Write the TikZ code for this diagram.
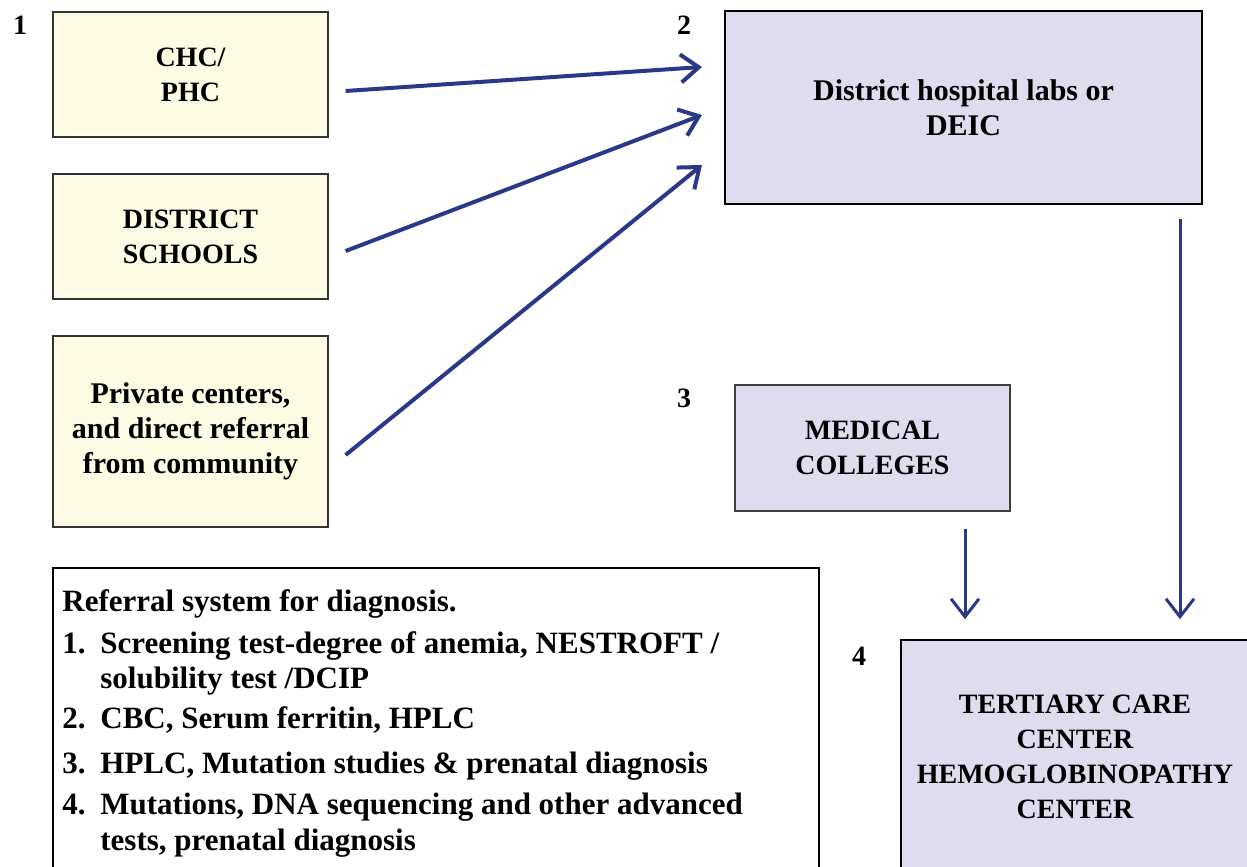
\documentclass[tikz,border=0pt]{standalone}
\usepackage{fontspec}
\setmainfont{Liberation Serif}
\usetikzlibrary{arrows.meta,calc}
\definecolor{boxyellow}{RGB}{254,251,229}
\definecolor{boxlilac}{RGB}{223,220,238}
\definecolor{arrownavy}{RGB}{42,56,138}

\begin{document}
\begin{tikzpicture}[x=0.5pt,y=-0.5pt,
    every node/.style={font=\fontsize{14}{17.5}\selectfont\bfseries},
    mixed/.style={font=\fontsize{15}{17.5}\selectfont\bfseries},
    srcbox/.style={draw=black!80, line width=0.6pt, fill=boxyellow, minimum width=137.5pt, align=center},
    lilacbox/.style={draw=black, fill=boxlilac, align=center},
    legendline/.style={anchor=base west, inner sep=0pt, font=\fontsize{15.5}{17.5}\selectfont\bfseries},
    flow/.style={draw=arrownavy, line width=2pt, -{Straight Barb[length=9pt,width=14pt]}},
    down/.style={draw=arrownavy, line width=1.5pt, -{Straight Barb[length=9pt,width=14pt]}}]

    \useasboundingbox (0,0) rectangle (1247,867);

    \node[srcbox, minimum height=62.5pt] (chc) at (190.5,74.5) {CHC/\\PHC};
    \node[srcbox, minimum height=62.5pt] (schools) at (190.5,236.5) {DISTRICT\\SCHOOLS};
    \node[srcbox, mixed, minimum height=95.5pt] (private) at (190.5,431.5) {Private centers,\\and direct referral\\from community};

    \node[lilacbox, mixed, line width=1pt, minimum width=238.5pt, minimum height=96.5pt] (dh) at (963.5,107.5) {District hospital labs or\\DEIC};
    \node[lilacbox, draw=black!75, line width=0.6pt, minimum width=137.5pt, minimum height=63pt] (med) at (872.5,448) {MEDICAL\\COLLEGES};
    \node[lilacbox, line width=0.8pt, minimum width=174pt, minimum height=117pt] (tert) at (1075,757) {TERTIARY CARE\\CENTER\\HEMOGLOBINOPATHY\\CENTER};

    \foreach \n/\x/\y in {1/20/25,2/684/25,3/684/398,4/859/656}{
    \node (num\n) at (\x,\y) {\n};
}

    \node[draw=black, line width=0.6pt, minimum width=383pt, minimum height=153.5pt] (legend) at (436,721.5) {};
    \node[legendline] (head) at (62,611) {Referral system for diagnosis.};
    \foreach \i/\y/\n/\t in {a/653/1./{Screening test-degree of anemia, NESTROFT /},
                             b/688//{solubility test /DCIP},
                             c/728/2./{CBC, Serum ferritin, HPLC},
                             d/773/3./{HPLC, Mutation studies \& prenatal diagnosis},
                             e/814/4./{Mutations, DNA sequencing and other advanced},
                             f/850//{tests, prenatal diagnosis}}{
    \node[legendline] (itemnum\i) at (62,\y) {\n};
    \node[legendline] (item\i) at (100,\y) {\t};
}

\draw[flow] ($(chc.east)+(17,16.5)$) -- ($(dh.west)+(-22,-40.5)$);
\draw[flow] ($(schools.east)+(17,14.5)$) -- ($(dh.west)+(-22,7.5)$);
\draw[flow] ($(private.east)+(17,23.5)$) -- ($(dh.west)+(-22,57.5)$);
\draw[down] ($(med.south)+(92.5,17)$) -- ($(tert.north)+(-110,-20)$);
\draw[down] ($(dh.south)+(216.5,14)$) -- ($(tert.north)+(105,-20)$);

\end{tikzpicture}
\end{document}
